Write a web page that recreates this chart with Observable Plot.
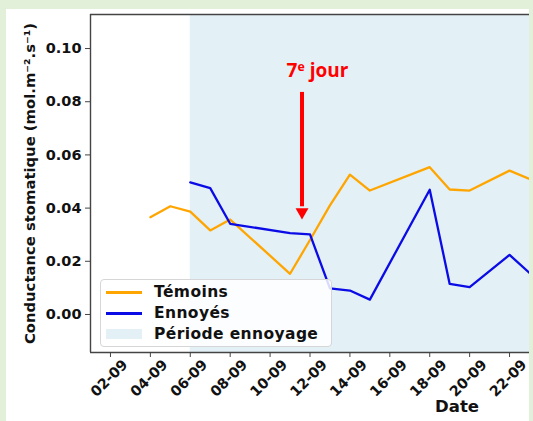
<!DOCTYPE html>
<html><head><meta charset="utf-8">
<script src="https://cdn.jsdelivr.net/npm/d3@7"></script>
<script src="https://cdn.jsdelivr.net/npm/@observablehq/plot@0.6"></script>
<style>
body{margin:0;background:#e2efd9;width:533px;height:421px;overflow:hidden;position:relative;font-family:"DejaVu Sans",sans-serif;}
#card{position:absolute;left:6px;top:9px;width:523px;height:420px;background:#fff;}
#chart{position:absolute;left:0;top:0;width:529px;}
#legend{position:absolute;left:100px;top:279px;width:230px;height:66px;background:rgba(255,255,255,0.85);border:1px solid #d6d6d6;border-radius:4px;font-family:"DejaVu Sans",sans-serif;font-weight:bold;font-size:15.5px;color:#111;}
.row{position:absolute;left:0;height:20px;}
.sw{position:absolute;left:5px;width:36px;}
.lab{position:absolute;left:53px;white-space:nowrap;letter-spacing:0.4px;}
</style></head><body>
<div id="card"></div>
<div id="chart"></div>
<div id="legend"></div>
<script>
// Data
const temoinsDates = ["2024-09-04","2024-09-05","2024-09-06","2024-09-07","2024-09-08","2024-09-11","2024-09-12","2024-09-13","2024-09-14","2024-09-15","2024-09-18","2024-09-19","2024-09-20","2024-09-22","2024-09-23"];
const temoinsValues = [0.0366,0.0407,0.0387,0.0316,0.0357,0.0153,0.028,0.041,0.0526,0.0466,0.0554,0.047,0.0466,0.0541,0.051];
const ennoyesDates = ["2024-09-06","2024-09-07","2024-09-08","2024-09-11","2024-09-12","2024-09-13","2024-09-14","2024-09-15","2024-09-18","2024-09-19","2024-09-20","2024-09-22","2024-09-23"];
const ennoyesValues = [0.0497,0.0475,0.0341,0.0306,0.0301,0.0098,0.009,0.0056,0.0469,0.0115,0.0103,0.0224,0.0156];
const seriesNames = ["Témoins","Ennoyés","Période ennoyage"];
const seriesColors = ["#ffa500","#0b0be6","#e3f0f6"];
const xDomain = ["2024-09-01","2024-09-23"];
const yDomain = [-0.0143, 0.1128];
const xTicks = ["2024-09-02","2024-09-04","2024-09-06","2024-09-08","2024-09-10","2024-09-12","2024-09-14","2024-09-16","2024-09-18","2024-09-20","2024-09-22"];
const yTicks = [0.00,0.02,0.04,0.06,0.08,0.10];
const periodStart = "2024-09-06";
const annotationText = "7e jour";
const annotationArrowX = "2024-09-11T14:24Z";
const annotationArrowTop = 0.0835;
const annotationArrowHead = 0.0385;
const annotationTextX = "2024-09-12T09:00Z";
const annotationTextY = 0.0917;
const xLabel = "Date";
const yLabel = "Conductance stomatique (mol.m⁻².s⁻¹)";

const P = s => new Date(s.length === 10 ? s + "T00:00Z" : s);
const temoins = temoinsDates.map((d,i)=>({date:P(d), v:temoinsValues[i]}));
const ennoyes = ennoyesDates.map((d,i)=>({date:P(d), v:ennoyesValues[i]}));
const xd = xDomain.map(P);
const ticks = xTicks.map(P);
const fmt = d3.utcFormat("%d-%m");
const ax = P(annotationArrowX);

const chart = Plot.plot({
  width: 529, height: 421,
  marginLeft: 90, marginRight: 0, marginTop: 14, marginBottom: 69,
  style: {background: "transparent", fontFamily: "DejaVu Sans", overflow: "visible"},
  x: {type: "utc", domain: xd},
  y: {domain: yDomain},
  marks: [
    Plot.rect([{a: P(periodStart), b: xd[1]}], {x1: "a", x2: "b", fill: seriesColors[2]}),
    Plot.line(temoins, {x: "date", y: "v", stroke: seriesColors[0], strokeWidth: 2.3, clip: true}),
    Plot.line(ennoyes, {x: "date", y: "v", stroke: seriesColors[1], strokeWidth: 2.3, clip: true}),
    Plot.ruleX([xd[0]], {stroke: "#444", strokeWidth: 1.4}),
    Plot.ruleY([yDomain[0], yDomain[1]], {stroke: "#444", strokeWidth: 1.4}),
    Plot.axisY({ticks: yTicks, tickSize: 5, tickPadding: 4, tickFormat: d3.format(".2f"), label: null, fontSize: 14.5, fontWeight: "bold", fill: "#111", stroke: "#444"}),
    Plot.axisX({ticks: ticks, tickSize: 5, tickFormat: () => "", label: null, stroke: "#444"}),
    Plot.text(ticks, {x: d => d, text: d => fmt(d), frameAnchor: "bottom", dx: 2, dy: 29, rotate: -45, textAnchor: "middle", fontSize: 14.2, fontWeight: "bold", fill: "#111"}),
    Plot.text([xLabel], {frameAnchor: "bottom", dx: 147, dy: 59, fontSize: 16.5, fontWeight: "bold", fill: "#111"}),
    Plot.text([yLabel], {frameAnchor: "left", textAnchor: "middle", dx: -60, dy: 0, rotate: -90, fontSize: 14.8, fontWeight: "bold", fill: "#111"}),
    Plot.ruleX([ax], {y1: annotationArrowTop, y2: annotationArrowHead + 0.002, stroke: "red", strokeWidth: 4}),
    Plot.dot([ax], {x: d => d, y: annotationArrowHead, symbol: "triangle", rotate: 180, r: 4.8, fill: "red", stroke: "none"}),
    Plot.text([annotationText], {x: P(annotationTextX), y: annotationTextY, fontSize: 19, fontWeight: "bold", fill: "red", fontFamily: "Open Sans"})
  ]
});
document.getElementById("chart").appendChild(chart);
// superscript "e" in the annotation
d3.select(chart).selectAll("text").filter(function(){ return this.textContent === annotationText; }).each(function(){
  const t = d3.select(this); t.text("");
  t.append("tspan").text("7");
  t.append("tspan").attr("dy", "-0.45em").attr("font-size", "65%").text("e");
  t.append("tspan").attr("dy", "0.29em").text(" jour");
});

// Legend
const lg = document.getElementById("legend");
const tops = [2, 23, 44];
seriesNames.forEach((n,i)=>{
  const row = document.createElement("div");
  row.className = "row"; row.style.top = tops[i] + "px"; row.style.width = "230px";
  const sw = document.createElement("div"); sw.className = "sw";
  if (i < 2) { sw.style.height = "2.5px"; sw.style.background = seriesColors[i]; sw.style.top = "9px"; }
  else { sw.style.height = "10px"; sw.style.background = seriesColors[i]; sw.style.top = "5px"; }
  const lab = document.createElement("div"); lab.className = "lab"; lab.textContent = n; lab.style.top = "0px"; lab.style.lineHeight = "20px";
  row.appendChild(sw); row.appendChild(lab); lg.appendChild(row);
});
</script>
</body></html>
